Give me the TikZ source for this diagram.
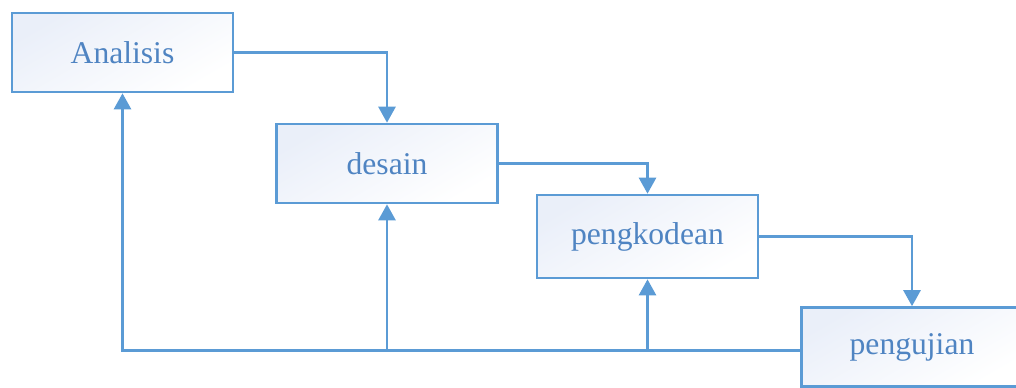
\documentclass[tikz,border=0pt]{standalone}
\usepackage{fontspec}
\setmainfont{Liberation Serif}
\usetikzlibrary{arrows.meta}
\definecolor{linecol}{RGB}{91,155,213}
\definecolor{textcol}{RGB}{79,132,194}
\definecolor{fillcol}{RGB}{234,239,249}

\tikzstyle{stage}=[rectangle, draw=linecol, line width=1.5pt, minimum width=4.42cm, minimum height=1.58cm,
  top color=fillcol, bottom color=white, shading angle=30, text=textcol, font=\fontsize{18}{22}\selectfont]
\tikzstyle{flow}=[draw=linecol, line width=1.5pt, -{Triangle[width=0.34cm,length=0.32cm]}, linecol]

\begin{document}
\begin{tikzpicture}[x=0.02cm, y=-0.02cm]
      \clip (0,0) rectangle (1016,387);
      \node[stage] (a) at (122.5, 52.5) {Analisis};
      \node[stage] (d) at (387, 163.5)  {desain};
      \node[stage, minimum height=1.66cm] (k) at (647.5, 236.5) {pengkodean};
      \node[stage] (u) at (912, 347)    {pengujian};
      \coordinate (back) at ([yshift=-2pt]u.west);
      \draw[flow] (a.east) -| (d.north);
      \draw[flow] (d.east) -| (k.north);
      \draw[flow] (k.east) -| (u.north);
      \draw[flow] (back) -| (a.south);
      \draw[flow] (d.south |- back) -- (d.south);
      \draw[flow] (k.south |- back) -- (k.south);
    \end{tikzpicture}
\end{document}
